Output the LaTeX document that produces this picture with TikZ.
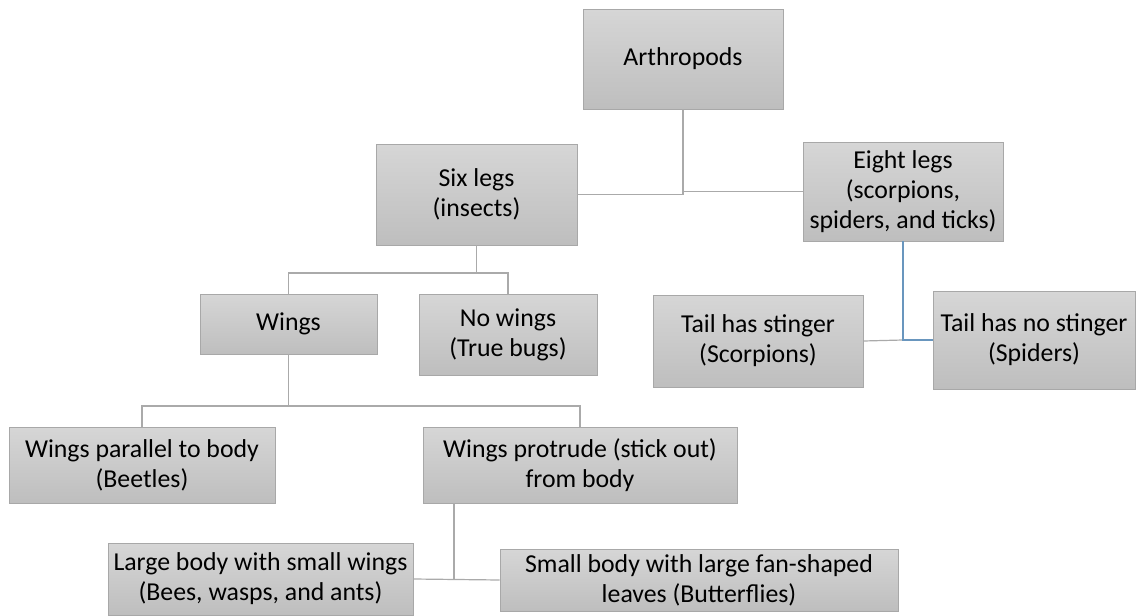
\documentclass[tikz,border=0pt]{standalone}
\usepackage{fontspec}
\setmainfont{Carlito}
\definecolor{boxtop}{RGB}{214,214,214}
\definecolor{boxbot}{RGB}{190,190,190}
\definecolor{boxline}{RGB}{168,168,168}
\definecolor{conline}{RGB}{170,170,170}
\definecolor{conblue}{RGB}{105,150,190}
\tikzset{
  box/.style={draw=boxline, line width=0.8pt, top color=boxtop, bottom color=boxbot,
    align=center, inner sep=2pt, font=\fontsize{25.8}{30}\selectfont, text=black},
  con/.style={draw=conline, line width=1.2pt},
  conb/.style={draw=conblue, line width=1.2pt}
}
\begin{document}
\begin{tikzpicture}[x=1pt,y=-1pt]
\useasboundingbox (0,0) rectangle (1136,616);
\node[box, minimum width=200pt, minimum height=100pt] (arth) at (683,59) {Arthropods};
\node[box, minimum width=201pt, minimum height=101pt] (six) at (476.5,194.5) {Six legs\\(insects)};
\node[box, minimum width=200pt, minimum height=99pt] (eight) at (903,191.5) {Eight legs\\(scorpions,\\spiders, and ticks)};
\node[box, minimum width=177pt, minimum height=60pt] (wings) at (288.5,324) {Wings};
\node[box, minimum width=178pt, minimum height=81pt] (nowings) at (508,334.5) {No wings\\(True bugs)};
\node[box, minimum width=210pt, minimum height=92pt] (stinger) at (758,341) {Tail has stinger\\(Scorpions)};
\node[box, minimum width=202pt, minimum height=98pt] (nostinger) at (1034,340) {Tail has no stinger\\(Spiders)};
\node[box, minimum width=266pt, minimum height=76pt] (parallel) at (142,465) {Wings parallel to body\\(Beetles)};
\node[box, minimum width=314pt, minimum height=76pt] (protrude) at (580,465) {Wings protrude (stick out)\\from body};
\node[box, minimum width=305pt, minimum height=72pt] (large) at (260.5,579) {Large body with small wings\\(Bees, wasps, and ants)};
\node[box, minimum width=398pt, minimum height=62pt] (small) at (699,580) {Small body with large fan-shaped\\leaves (Butterflies)};

\coordinate (j1) at (477,273);
\coordinate (j2) at (289,406);
\coordinate (j3) at (454,579);
\coordinate (j4) at (903,340);

\draw[con] (arth.south) |- (six.east);
\draw[con] (arth.south |- eight.west) -- (eight.west);
\draw[con] (six.south) -- (six.south |- j1);
\draw[con] (wings.north) -- (wings.north |- j1) -- (nowings.north |- j1) -- (nowings.north);
\draw[con] (wings.south) -- (wings.south |- j2);
\draw[con] (parallel.north) -- (parallel.north |- j2) -- (protrude.north |- j2) -- (protrude.north);
\draw[con] (j3 |- protrude.south) -- (j3);
\draw[con] (large.east) -- (small.west);
\draw[con] (stinger.east) -- (j4);
\draw[conb] (eight.south) -- (j4) -- (nostinger.west);
\end{tikzpicture}
\end{document}
